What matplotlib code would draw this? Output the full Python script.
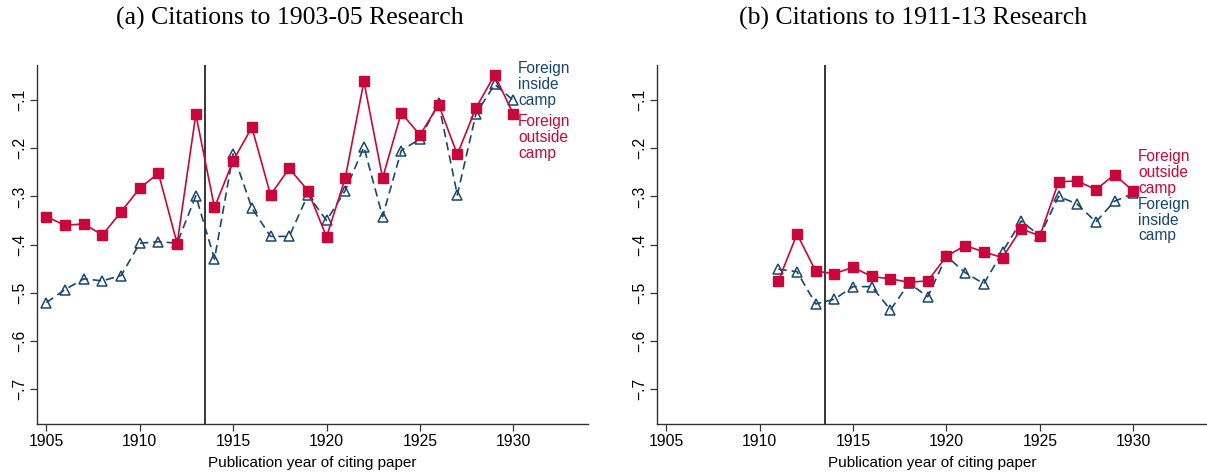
import matplotlib
matplotlib.use("Agg")
from matplotlib import pyplot as plt
from matplotlib.ticker import FuncFormatter

RED = '#c8083a'
BLUE = '#1a476f'

# (a) citations to 1903-05 research
years_a = list(range(1905, 1931))
outside_a = [-0.342, -0.360, -0.357, -0.380, -0.332, -0.283, -0.252, -0.398, -0.130,
             -0.323, -0.226, -0.157, -0.297, -0.242, -0.288, -0.384, -0.262, -0.062,
             -0.262, -0.127, -0.173, -0.110, -0.213, -0.117, -0.048, -0.130]
inside_a = [-0.520, -0.493, -0.471, -0.475, -0.464, -0.397, -0.394, -0.397, -0.299,
            -0.430, -0.212, -0.324, -0.383, -0.383, -0.297, -0.350, -0.288, -0.198,
            -0.342, -0.205, -0.181, -0.107, -0.297, -0.129, -0.068, -0.101]

# (b) citations to 1911-13 research
years_b = list(range(1911, 1931))
outside_b = [-0.475, -0.378, -0.455, -0.460, -0.447, -0.466, -0.471, -0.478, -0.475,
             -0.424, -0.402, -0.415, -0.427, -0.367, -0.382, -0.270, -0.268, -0.286,
             -0.255, -0.289]
inside_b = [-0.451, -0.456, -0.523, -0.513, -0.487, -0.487, -0.535, -0.480, -0.508,
            -0.424, -0.458, -0.481, -0.415, -0.351, -0.382, -0.300, -0.316, -0.353,
            -0.310, -0.294]

titles = ['(a) Citations to 1903-05 Research', '(b) Citations to 1911-13 Research']
x_ticks = [1905, 1910, 1915, 1920, 1925, 1930]
y_ticks = [-0.1, -0.2, -0.3, -0.4, -0.5, -0.6, -0.7]
cutoff = 1913.5

plt.rcParams['font.family'] = ['Liberation Sans', 'DejaVu Sans']

fig = plt.figure(figsize=(12.07, 4.75), dpi=100)
ax_a = fig.add_axes([0.0307, 0.107, 0.4565, 0.756])
ax_b = fig.add_axes([0.5443, 0.107, 0.4565, 0.756])


def fmt(v, pos):
    s = ('%.1f' % v).replace('0.', '.')
    return s.replace('-', '\u2212')


panels = [
    (ax_a, years_a, outside_a, inside_a,
     [(-0.068, 'Foreign\ninside\ncamp', BLUE), (-0.178, 'Foreign\noutside\ncamp', RED)]),
    (ax_b, years_b, outside_b, inside_b,
     [(-0.251, 'Foreign\noutside\ncamp', RED), (-0.349, 'Foreign\ninside\ncamp', BLUE)]),
]

for ax, yrs, outside, inside, labels in panels:
    ax.axvline(cutoff, color='black', lw=1.1, zorder=1)
    ax.plot(yrs, inside, color=BLUE, lw=1.2, ls=(0, (5, 3)), marker='^', ms=6.5,
            mfc='none', mec=BLUE, mew=1.1, zorder=2)
    ax.plot(yrs, outside, color=RED, lw=1.2, marker='s', ms=6.5,
            mfc=RED, mec=RED, zorder=3)
    for yv, txt, col in labels:
        ax.text(1930.25, yv, txt, color=col, fontsize=11.2, va='center', ha='left',
                linespacing=1.08)
    ax.set_xlim(1904.5, 1934)
    ax.set_ylim(-0.772, -0.028)
    ax.set_xticks(x_ticks)
    ax.set_yticks(y_ticks)
    ax.yaxis.set_major_formatter(FuncFormatter(fmt))
    ax.tick_params(axis='both', labelsize=11.3, length=5, width=0.9, color='#333333', pad=2)
    for lab in ax.get_yticklabels():
        lab.set_rotation(90)
        lab.set_va('center')
    ax.spines['top'].set_visible(False)
    ax.spines['right'].set_visible(False)
    for side in ['left', 'bottom']:
        ax.spines[side].set_color('#333333')
        ax.spines[side].set_linewidth(1.0)
    ax.set_xlabel('Publication year of citing paper', fontsize=11, labelpad=5)

fig.text(290 / 1207, 1 - 18 / 475, titles[0], fontsize=18.5, family='Liberation Serif',
         ha='center', va='center')
fig.text(913 / 1207, 1 - 18 / 475, titles[1], fontsize=18.5, family='Liberation Serif',
         ha='center', va='center')

fig.savefig('out.png', dpi=100)
